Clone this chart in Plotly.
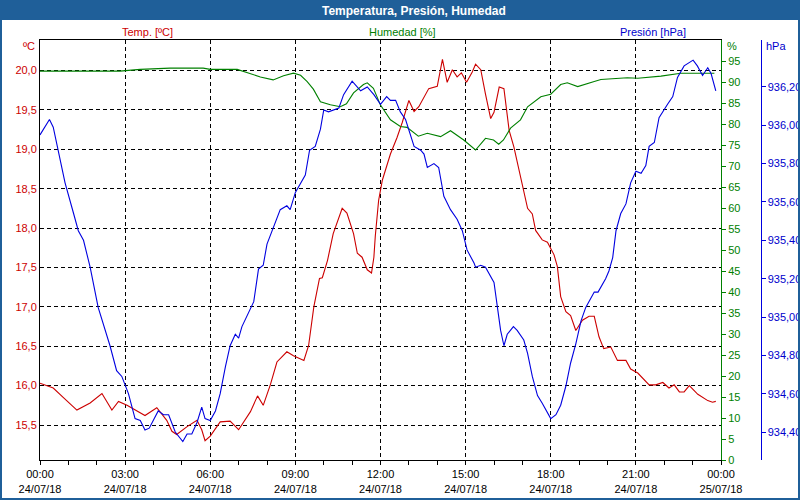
import plotly.graph_objects as go
import pandas as pd

# ---------------- data ----------------
chart_title = "Temperatura, Presión, Humedad"
day_start = "2018-07-24 00:00"

# minutes after 24/07/18 00:00 and temperature [ºC]
temp_min = [0, 28, 49, 78, 106, 131, 152, 166, 184, 222, 247, 268, 279, 289, 311, 332, 342, 349, 360,
            381, 402, 420, 445, 460, 472, 487, 501, 522, 536, 558, 568, 579, 591, 597, 608, 620, 639,
            649, 663, 671, 681, 692, 701, 706, 709, 716, 724, 741, 755, 766, 780, 791, 801, 822, 840,
            851, 861, 872, 882, 891, 902, 914, 921, 932, 942, 953, 960, 971, 981, 992, 1002, 1020,
            1031, 1041, 1048, 1062, 1073, 1087, 1094, 1101, 1112, 1122, 1133, 1147, 1161, 1172, 1182,
            1192, 1207, 1221, 1239, 1249, 1264, 1288, 1302, 1317, 1330, 1341, 1352, 1362, 1373, 1391,
            1412, 1422, 1429]
temp_val = [16.03, 15.97, 15.85, 15.69, 15.78, 15.90, 15.69, 15.80, 15.75, 15.62, 15.72, 15.56, 15.42,
            15.38, 15.48, 15.56, 15.44, 15.30, 15.36, 15.54, 15.55, 15.44, 15.67, 15.87, 15.75, 16.01,
            16.30, 16.43, 16.38, 16.32, 16.51, 17.00, 17.36, 17.37, 17.59, 17.93, 18.25, 18.19, 17.93,
            17.68, 17.63, 17.47, 17.43, 17.63, 17.90, 18.35, 18.61, 18.94, 19.15, 19.34, 19.62, 19.48,
            19.54, 19.77, 19.80, 20.14, 19.85, 20.01, 19.92, 19.97, 19.85, 19.98, 20.08, 20.01, 19.70,
            19.39, 19.47, 19.79, 19.77, 19.24, 19.03, 18.52, 18.25, 18.18, 17.97, 17.85, 17.82, 17.66,
            17.51, 17.13, 16.94, 16.89, 16.70, 16.83, 16.88, 16.88, 16.62, 16.47, 16.49, 16.32, 16.32,
            16.21, 16.16, 16.01, 16.01, 16.04, 15.97, 16.01, 15.92, 15.92, 16.00, 15.89, 15.81, 15.79,
            15.80]

# minutes and relative humidity [%]
hum_min = [0, 169, 212, 275, 345, 360, 417, 438, 466, 493, 515, 536, 551, 565, 578, 593, 614, 635, 648,
           663, 684, 692, 705, 720, 741, 762, 776, 800, 819, 847, 868, 896, 921, 942, 959, 970, 980,
           995, 1016, 1031, 1059, 1080, 1101, 1115, 1137, 1172, 1186, 1242, 1264, 1313, 1355, 1426]
hum_val = [92.6, 92.6, 93.0, 93.3, 93.3, 93.0, 93.0, 92.3, 91.2, 90.5, 91.5, 92.1, 91.6, 90.1, 88.3,
           85.3, 84.6, 84.1, 84.8, 87.4, 89.4, 89.8, 88.5, 84.5, 81.0, 79.4, 79.2, 77.1, 77.8, 77.0,
           78.4, 76.2, 73.8, 76.6, 76.2, 75.2, 76.2, 79.0, 81.0, 84.1, 86.5, 87.1, 89.4, 89.8, 88.9,
           90.1, 90.6, 91.0, 90.9, 91.4, 92.1, 92.1]

# minutes and pressure [hPa]
pres_min = [0, 20, 28, 39, 53, 71, 81, 92, 106, 123, 138, 148, 162, 173, 187, 201, 212, 222, 231, 250,
            261, 272, 286, 302, 311, 321, 332, 342, 349, 360, 371, 381, 392, 402, 413, 420, 427, 445,
            452, 462, 472, 480, 491, 508, 522, 529, 540, 551, 561, 570, 582, 593, 600, 610, 621, 632,
            642, 660, 678, 692, 706, 720, 733, 741, 752, 762, 773, 791, 805, 812, 819, 833, 843, 854,
            868, 882, 893, 903, 918, 921, 932, 942, 960, 967, 974, 981, 988, 1001, 1009, 1023, 1031,
            1041, 1052, 1062, 1069, 1080, 1091, 1101, 1112, 1122, 1133, 1144, 1154, 1172, 1180, 1196,
            1203, 1211, 1218, 1228, 1239, 1249, 1260, 1271, 1281, 1288, 1299, 1309, 1327, 1338, 1348,
            1362, 1381, 1390, 1401, 1412, 1419, 1429]
pres_val = [935.95, 936.03, 935.99, 935.87, 935.70, 935.54, 935.45, 935.40, 935.26, 935.05, 934.93,
            934.85, 934.72, 934.69, 934.60, 934.47, 934.46, 934.41, 934.42, 934.51, 934.49, 934.49,
            934.40, 934.35, 934.39, 934.39, 934.45, 934.53, 934.47, 934.46, 934.51, 934.60, 934.74,
            934.85, 934.91, 934.89, 934.95, 935.05, 935.08, 935.25, 935.27, 935.38, 935.45, 935.56,
            935.58, 935.56, 935.65, 935.70, 935.74, 935.87, 935.89, 935.98, 936.08, 936.07, 936.08,
            936.09, 936.16, 936.23, 936.18, 936.20, 936.16, 936.11, 936.15, 936.13, 936.13, 936.07,
            936.03, 935.89, 935.87, 935.85, 935.78, 935.80, 935.78, 935.63, 935.56, 935.51, 935.45,
            935.35, 935.28, 935.26, 935.27, 935.26, 935.18, 935.04, 934.93, 934.85, 934.91, 934.95,
            934.93, 934.88, 934.81, 934.69, 934.59, 934.55, 934.52, 934.47, 934.49, 934.54, 934.64,
            934.76, 934.86, 934.98, 935.05, 935.13, 935.13, 935.20, 935.24, 935.31, 935.45, 935.54,
            935.59, 935.70, 935.76, 935.75, 935.79, 935.89, 935.91, 936.04, 936.11, 936.15, 936.25,
            936.31, 936.34, 936.31, 936.26, 936.30, 936.27, 936.18]

x_tick_hours = [0, 3, 6, 9, 12, 15, 18, 21, 24]
x_tick_text = ["00:00<br>24/07/18", "03:00<br>24/07/18", "06:00<br>24/07/18", "09:00<br>24/07/18",
               "12:00<br>24/07/18", "15:00<br>24/07/18", "18:00<br>24/07/18", "21:00<br>24/07/18",
               "00:00<br>25/07/18"]
temp_ticks = [15.5, 16.0, 16.5, 17.0, 17.5, 18.0, 18.5, 19.0, 19.5, 20.0]
hum_ticks = [0, 5, 10, 15, 20, 25, 30, 35, 40, 45, 50, 55, 60, 65, 70, 75, 80, 85, 90, 95]
pres_ticks = [934.4, 934.6, 934.8, 935.0, 935.2, 935.4, 935.6, 935.8, 936.0, 936.2]

series_titles = ["Temp. [ºC]", "Humedad [%]", "Presión [hPa]"]
unit_labels = ["ºC", "%", "hPa"]

# ---------------- styling ----------------
RED, GREEN, BLUE = "#cc0000", "#008000", "#0000e0"
RED_T, GREEN_T, BLUE_T = "#cc0000", "#008000", "#0000cc"
BAR = "#1f5f99"
FONT = "Liberation Sans"

W, H = 800, 500
ML, MR, MT, MB = 40, 30, 40, 40
PW, PH = W - ML - MR, H - MT - MB


def px(X):
    return (X - ML) / PW


def py(Y):
    return (H - MB - Y) / PH


t0 = pd.Timestamp(day_start)
to_time = lambda mins: [t0 + pd.Timedelta(minutes=m) for m in mins]

fig = go.Figure()
fig.add_trace(go.Scatter(x=to_time(temp_min), y=temp_val, mode="lines", name=series_titles[0],
                         line=dict(color=RED, width=1.1), yaxis="y"))
fig.add_trace(go.Scatter(x=to_time(hum_min), y=hum_val, mode="lines", name=series_titles[1],
                         line=dict(color=GREEN, width=1.1), yaxis="y2"))
fig.add_trace(go.Scatter(x=to_time(pres_min), y=pres_val, mode="lines", name=series_titles[2],
                         line=dict(color=BLUE, width=1.1), yaxis="y3"))

x_dom_end = px(721)
fig.update_layout(
    width=W, height=H,
    margin=dict(l=ML, r=MR, t=MT, b=MB, autoexpand=False),
    paper_bgcolor="white", plot_bgcolor="white",
    showlegend=False,
    separators=",.",
    font=dict(family=FONT, size=11),
    xaxis=dict(
        domain=[0, x_dom_end], automargin=False,
        range=[t0, t0 + pd.Timedelta(hours=24)],
        tickmode="array",
        tickvals=[t0 + pd.Timedelta(hours=h) for h in x_tick_hours],
        ticktext=x_tick_text,
        ticks="outside", ticklen=4, tickcolor="black",
        tickfont=dict(color="black", size=11),
        showline=True, linecolor="black", linewidth=1, mirror=True,
        showgrid=True, gridcolor="black", gridwidth=1, griddash="4px,3px",
        zeroline=False,
        minor=dict(dtick=3600000, tick0=t0, ticks="outside", ticklen=4, tickcolor="black", showgrid=False),
    ),
    yaxis=dict(
        range=[15.056, 20.387], automargin=False,
        tickmode="array", tickvals=temp_ticks, tickformat=".1f",
        ticks="", tickfont=dict(color=RED_T, size=11),
        showline=True, linecolor="black", linewidth=1,
        showgrid=True, gridcolor="black", gridwidth=1, griddash="4px,3px",
        zeroline=False,
    ),
    yaxis2=dict(
        range=[0, 100], overlaying="y", side="right", anchor="x", automargin=False,
        tickmode="array", tickvals=hum_ticks, tickformat="d",
        ticks="outside", ticklen=4, tickcolor=GREEN,
        tickfont=dict(color=GREEN_T, size=11),
        showline=True, linecolor=GREEN, linewidth=1,
        showgrid=False, zeroline=False,
    ),
    yaxis3=dict(
        range=[934.254, 936.445], overlaying="y", side="right", anchor="free", automargin=False,
        position=px(760.5),
        tickmode="array", tickvals=pres_ticks, tickformat=".2f",
        ticks="outside", ticklen=4, tickcolor=BLUE,
        tickfont=dict(color=BLUE_T, size=11),
        showline=True, linecolor=BLUE, linewidth=1,
        showgrid=False, zeroline=False,
    ),
)

# window title bar and frame
shapes = [
    dict(type="rect", xref="paper", yref="paper", x0=px(0), x1=px(800), y0=py(20), y1=py(0),
         fillcolor=BAR, line=dict(width=0), layer="above"),
    dict(type="rect", xref="paper", yref="paper", x0=px(0), x1=px(2), y0=py(500), y1=py(20),
         fillcolor=BAR, line=dict(width=0), layer="above"),
    dict(type="rect", xref="paper", yref="paper", x0=px(798), x1=px(800), y0=py(500), y1=py(20),
         fillcolor=BAR, line=dict(width=0), layer="above"),
    dict(type="rect", xref="paper", yref="paper", x0=px(0), x1=px(800), y0=py(500), y1=py(498),
         fillcolor=BAR, line=dict(width=0), layer="above"),
]
fig.update_layout(shapes=shapes)

annotations = [
    dict(text="<b>" + chart_title + "</b>", x=px(414), y=py(10.5), xanchor="center", yanchor="middle",
         font=dict(color="white", size=12, family=FONT)),
    dict(text=series_titles[0], x=px(147.5), y=py(32), xanchor="center", yanchor="middle",
         font=dict(color=RED_T, size=11)),
    dict(text=series_titles[1], x=px(402), y=py(32), xanchor="center", yanchor="middle",
         font=dict(color=GREEN_T, size=11)),
    dict(text=series_titles[2], x=px(653), y=py(32), xanchor="center", yanchor="middle",
         font=dict(color=BLUE_T, size=11)),
    dict(text=unit_labels[0], x=px(37), y=py(46), xanchor="right", yanchor="middle",
         font=dict(color=RED_T, size=11)),
    dict(text=unit_labels[1], x=px(725), y=py(46), xanchor="left", yanchor="middle",
         font=dict(color=GREEN_T, size=11)),
    dict(text=unit_labels[2], x=px(764), y=py(46), xanchor="left", yanchor="middle",
         font=dict(color=BLUE_T, size=11)),
]
for a in annotations:
    a.update(xref="paper", yref="paper", showarrow=False)
fig.update_layout(annotations=annotations)

fig.write_html("out.html", config={"displayModeBar": False},
               post_script="document.body.style.margin='0';document.body.style.overflow='hidden';")
